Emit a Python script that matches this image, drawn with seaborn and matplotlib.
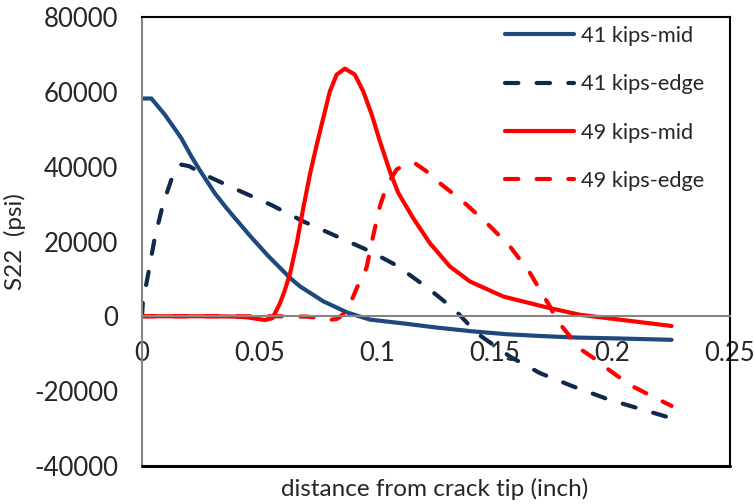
import seaborn as sns
import matplotlib.pyplot as plt
import pandas as pd

# --- data ---
mid41_x = [0, 0.004, 0.0097, 0.0167, 0.021, 0.0245, 0.0309, 0.0359, 0.0395, 0.046, 0.0536,
           0.0629, 0.0672, 0.0771, 0.087, 0.0913, 0.097, 0.111, 0.125, 0.14, 0.155, 0.17,
           0.185, 0.2, 0.2252]
mid41_y = [58300, 58300, 54000, 47700, 42800, 39200, 33000, 29000, 26300, 21500, 16200,
           10300, 8000, 4000, 1100, 200, -900, -1900, -3000, -4000, -4800, -5300,
           -5700, -5900, -6300]

edge41_x = [0, 0.0004, 0.0026, 0.0054, 0.0089, 0.0132, 0.0167, 0.02, 0.0266, 0.04, 0.055,
            0.0686, 0.0828, 0.097, 0.1083, 0.1217, 0.1331, 0.1423, 0.1565, 0.1692, 0.1834,
            0.199, 0.213, 0.2252]
edge41_y = [0, 4000, 11100, 20900, 29900, 37900, 40600, 40200, 37900, 34000, 29800,
            25400, 21400, 17400, 13600, 7500, 1700, -4500, -10800, -15200, -18800,
            -22400, -25000, -27300]

mid49_x = [0, 0.01, 0.02, 0.03, 0.04, 0.045, 0.05, 0.0523, 0.0555, 0.0587, 0.0605, 0.063,
           0.0658, 0.0686, 0.0714, 0.0743, 0.0771, 0.0799, 0.0828, 0.0863, 0.0905, 0.0941,
           0.0977, 0.1012, 0.1054, 0.109, 0.1154, 0.1224, 0.131, 0.1395, 0.1536, 0.172,
           0.1862, 0.2032, 0.2252]
mid49_y = [0, 0, 0, 0, -100, -300, -800, -1000, -500, 3500, 6500, 11500,
           19500, 29000, 37900, 45900, 53100, 60200, 64700, 66300, 64700, 60200,
           54000, 46800, 38800, 33000, 26200, 19600, 13300, 9300, 5300, 2400,
           400, -900, -2600]

edge49_x = [0, 0.02, 0.04, 0.06, 0.07, 0.075, 0.0795, 0.083, 0.0858, 0.0884, 0.0913, 0.0955,
            0.0983, 0.1012, 0.1041, 0.1083, 0.1125, 0.116, 0.121, 0.1253, 0.1338, 0.138,
            0.148, 0.1565, 0.165, 0.1692, 0.1735, 0.1763, 0.182, 0.1848, 0.1933, 0.1976,
            0.2075, 0.215, 0.2252]
edge49_y = [0, 0, 0, 0, -100, -400, -1000, -700, 700, 3100, 7500, 13000,
            21500, 29500, 35000, 39300, 40800, 41000, 38800, 36300, 32100, 29900,
            24100, 18700, 11600, 7100, 2600, -900, -5400, -8100, -11700, -13900,
            -18400, -20800, -24000]

x_ticks = [0, 0.05, 0.1, 0.15, 0.2, 0.25]
x_tick_labels = ['0', '0.05', '0.1', '0.15', '0.2', '0.25']
y_ticks = [-40000, -20000, 0, 20000, 40000, 60000, 80000]

series = [
    ('41 kips-mid', mid41_x, mid41_y, '#1F497D', False),
    ('41 kips-edge', edge41_x, edge41_y, '#10284A', True),
    ('49 kips-mid', mid49_x, mid49_y, '#FF0000', False),
    ('49 kips-edge', edge49_x, edge49_y, '#FF0000', True),
]

# --- style ---
sns.set_style("white")
plt.rcParams['font.family'] = ['Lato', 'DejaVu Sans']
plt.rcParams['axes.unicode_minus'] = False

fig = plt.figure(figsize=(7.54, 5.04), dpi=100)
ax = fig.add_axes([0.1883, 0.076, 0.7797, 0.8894])

for name, xs, ys, color, dashed in series:
    df = pd.DataFrame({'x': xs, 'y': ys})
    sns.lineplot(data=df, x='x', y='y', ax=ax, color=color, linewidth=3.0,
                 label=name, estimator=None, sort=False)
    line = ax.get_lines()[-1]
    line.set_solid_capstyle('round')
    line.set_solid_joinstyle('round')
    if dashed:
        line.set_dashes((3.2, 4.4))
        line.set_dash_capstyle('round')
        line.set_dash_joinstyle('round')

ax.set_xlim(0, 0.25)
ax.set_ylim(-40000, 80000)
ax.set_xticks(x_ticks)
ax.set_xticklabels(x_tick_labels)
ax.set_yticks(y_ticks)

# horizontal axis sits on y = 0, plot area border stays black
ax.spines['bottom'].set_position(('data', 0))
ax.spines['bottom'].set_color('#868686')
ax.spines['bottom'].set_linewidth(1.5)
ax.spines['left'].set_color('#868686')
ax.spines['left'].set_linewidth(1.5)
for side in ['top', 'right']:
    ax.spines[side].set_color('black')
    ax.spines[side].set_linewidth(1.5)
ax.plot([0, 1], [0, 0], transform=ax.transAxes, color='black', linewidth=2.2,
        clip_on=False, zorder=5)

ax.tick_params(axis='x', direction='out', length=5, width=1.2, color='#868686',
               pad=13, labelsize=18.5)
ax.tick_params(axis='y', direction='out', length=6, width=1.2, color='#868686',
               pad=11, labelsize=18.5)
ax.set_xlabel('')
ax.set_ylabel('S22  (psi)', fontsize=17.5, labelpad=6)
fig.text(0.577, 0.008, 'distance from crack tip (inch)', fontsize=17.5,
         ha='center', va='bottom')

ax.legend(loc='upper left', frameon=False, fontsize=15.7, handlelength=3.2,
          labelspacing=1.3, handletextpad=0.28, borderaxespad=0, borderpad=0,
          bbox_to_anchor=(0.617, 0.981))

plt.savefig('out.png', dpi=100)
